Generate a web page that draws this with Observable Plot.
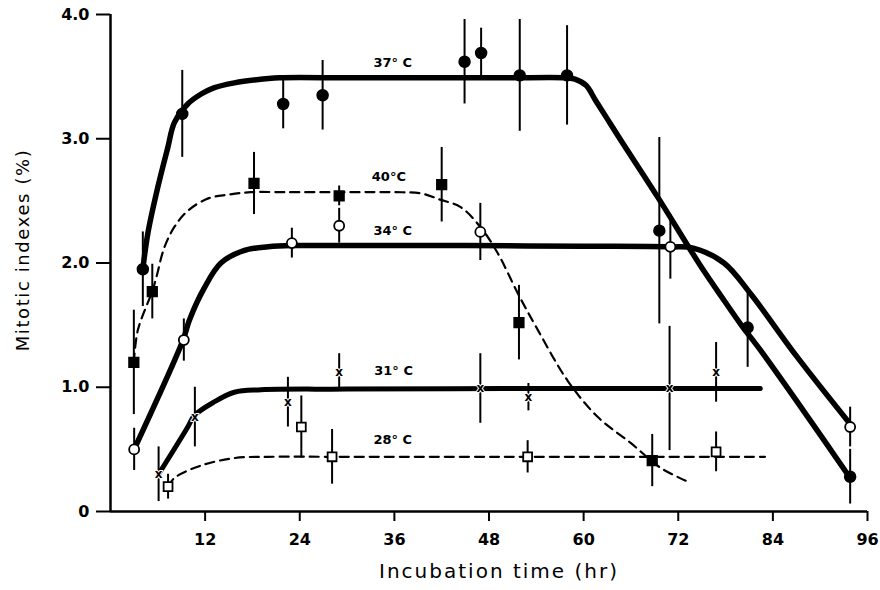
<!DOCTYPE html>
<html>
<head>
<meta charset="utf-8">
<script src="https://cdn.jsdelivr.net/npm/d3@7"></script>
<script src="https://cdn.jsdelivr.net/npm/@observablehq/plot@0.6"></script>
<style>
  html, body { margin: 0; padding: 0; background: #fff; }
  #chart { width: 880px; height: 590px; }
</style>
</head>
<body>
<div id="chart"></div>
<script>
// ---- measured points (hours, mitotic index %, error half-length) ----
const hours37 = [4.1, 9.1, 21.9, 26.9, 44.9, 47.0, 51.9, 57.9, 69.6, 80.8, 93.8];
const mi37    = [1.95, 3.20, 3.28, 3.35, 3.62, 3.69, 3.51, 3.51, 2.26, 1.48, 0.28];
const err37   = [0.30, 0.35, 0.20, 0.28, 0.34, 0.20, 0.45, 0.40, 0.75, 0.32, 0.22];

const hours40 = [2.96, 5.3, 18.2, 29.0, 42.0, 51.8, 68.7];
const mi40    = [1.20, 1.77, 2.64, 2.54, 2.63, 1.52, 0.41];
const err40   = [0.42, 0.22, 0.25, 0.08, 0.30, 0.30, 0.21];

const hours34 = [3.0, 9.3, 23.0, 29.0, 46.9, 71.0, 93.8];
const mi34    = [0.50, 1.38, 2.16, 2.30, 2.25, 2.13, 0.68];
const err34   = [0.17, 0.17, 0.12, 0.14, 0.23, 0.26, 0.16];

const hours31 = [6.1, 10.7, 22.5, 29.0, 46.9, 53.0, 70.9, 76.8];
const mi31    = [0.30, 0.76, 0.88, 1.12, 0.99, 0.92, 0.99, 1.12];
const err31   = [0.22, 0.24, 0.20, 0.15, 0.28, 0.11, 0.50, 0.24];

const hours28 = [7.3, 24.2, 28.1, 52.9, 76.8];
const mi28    = [0.20, 0.68, 0.44, 0.44, 0.48];
const err28   = [0.10, 0.25, 0.22, 0.13, 0.16];

// ---- fitted curves ----
const curve37x = [4.1, 4.74, 6.0, 7.27, 8.1, 9.8, 11.5, 13.1, 15.7, 18.5, 21.4, 30, 40, 50, 57.9, 58.9, 60.3, 61.5, 63.0, 64.7, 69.4, 74.8, 77.8, 80.0, 82.4, 88, 93.8];
const curve37y = [1.95, 2.24, 2.61, 2.93, 3.13, 3.28, 3.36, 3.41, 3.45, 3.475, 3.49, 3.49, 3.49, 3.49, 3.49, 3.48, 3.43, 3.31, 3.16, 2.99, 2.53, 1.98, 1.70, 1.50, 1.30, 0.80, 0.27];

const curve40x = [2.96, 3.47, 5.28, 5.8, 6.8, 8.1, 9.8, 12.4, 14.9, 17.8, 22, 30, 36, 39.4, 41.8, 44.4, 46.9, 49.1, 51.7, 54.2, 58.0, 61.8, 66.0, 69.8, 73.6];
const curve40y = [1.20, 1.46, 1.77, 1.88, 2.12, 2.29, 2.42, 2.52, 2.55, 2.57, 2.57, 2.57, 2.57, 2.56, 2.51, 2.45, 2.29, 2.08, 1.75, 1.46, 1.05, 0.76, 0.55, 0.35, 0.23];

const curve34x = [3.0, 9.2, 10.0, 11.9, 14.0, 16.9, 20.0, 23.0, 35, 45, 60, 71.0, 73.9, 77.8, 81.2, 87, 93.6];
const curve34y = [0.50, 1.38, 1.54, 1.80, 2.00, 2.10, 2.13, 2.14, 2.14, 2.14, 2.135, 2.13, 2.12, 2.00, 1.75, 1.25, 0.72];

const curve31x = [6.1, 9.8, 10.6, 13.1, 15.7, 19.1, 30, 50, 70, 82.4];
const curve31y = [0.30, 0.68, 0.77, 0.88, 0.96, 0.98, 0.985, 0.99, 0.99, 0.99];

const curve28x = [7.3, 8.1, 11.5, 15.7, 20.0, 30, 50, 70, 83.0];
const curve28y = [0.20, 0.27, 0.37, 0.43, 0.44, 0.44, 0.44, 0.44, 0.44];

// ---- curve labels ----
const labelText = ["37° C", "40°C", "34° C", "31° C", "28° C"];
const labelX    = [35.8, 35.3, 35.8, 35.9, 35.8];
const labelY    = [3.61, 2.69, 2.26, 1.13, 0.58];

// ---- axis ticks ----
const xTicks = [12, 24, 36, 48, 60, 72, 84, 96];
const yTicks = [0, 1, 2, 3, 4];
const yTickLabels = ["0", "1.0", "2.0", "3.0", "4.0"];

const pts = (xs, ys, es) => xs.map((x, i) => ({x, y: ys[i], e: es[i]}));
const crv = (xs, ys) => xs.map((x, i) => ({x, y: ys[i]}));

const d37 = pts(hours37, mi37, err37);
const d40 = pts(hours40, mi40, err40);
const d34 = pts(hours34, mi34, err34);
const d31 = pts(hours31, mi31, err31);
const d28 = pts(hours28, mi28, err28);
const labels = labelText.map((t, i) => ({t, x: labelX[i], y: labelY[i]}));

const err = (d) => Plot.ruleX(d, {x: "x", y1: (p) => p.y - p.e, y2: (p) => p.y + p.e, stroke: "#000", strokeWidth: 2});
const curveStyle = "catmull-rom";

const chart = Plot.plot({
  width: 880,
  height: 590,
  marginLeft: 110,
  marginRight: 13,
  marginTop: 14,
  marginBottom: 79,
  style: {fontFamily: "'DejaVu Sans', sans-serif", background: "#fff", color: "#000"},
  x: {domain: [0, 96], label: null},
  y: {domain: [0, 4], label: null},
  marks: [
    Plot.axisX({ticks: xTicks, tickSize: 10, tickPadding: 12, fontSize: 16, fontWeight: "bold", strokeWidth: 2, label: null}),
    Plot.axisY({ticks: yTicks, tickSize: 14, tickPadding: 7, fontSize: 16, fontWeight: "bold", strokeWidth: 2,
                tickFormat: (d) => yTickLabels[yTicks.indexOf(d)], label: null}),
    Plot.ruleY([0], {stroke: "#000", strokeWidth: 2.5}),
    Plot.ruleX([0], {stroke: "#000", strokeWidth: 2.5}),
    // curves
    Plot.line(crv(curve37x, curve37y), {x: "x", y: "y", curve: curveStyle, stroke: "#000", strokeWidth: 5.5}),
    Plot.line(crv(curve34x, curve34y), {x: "x", y: "y", curve: curveStyle, stroke: "#000", strokeWidth: 5.5}),
    Plot.line(crv(curve31x, curve31y), {x: "x", y: "y", curve: curveStyle, stroke: "#000", strokeWidth: 5}),
    Plot.line(crv(curve40x, curve40y), {x: "x", y: "y", curve: curveStyle, stroke: "#000", strokeWidth: 2.2, strokeDasharray: "9,6"}),
    Plot.line(crv(curve28x, curve28y), {x: "x", y: "y", curve: curveStyle, stroke: "#000", strokeWidth: 2.2, strokeDasharray: "9,6"}),
    // error bars
    err(d37), err(d40), err(d34), err(d31), err(d28),
    // markers
    Plot.dot(d37, {x: "x", y: "y", r: 5.5, fill: "#000", stroke: "#000"}),
    Plot.dot(d40, {x: "x", y: "y", symbol: "square", r: 5.5, fill: "#000", stroke: "#000"}),
    Plot.dot(d34, {x: "x", y: "y", r: 5, fill: "#fff", stroke: "#000", strokeWidth: 1.8}),
    Plot.dot(d28, {x: "x", y: "y", symbol: "square", r: 5, fill: "#fff", stroke: "#000", strokeWidth: 1.8}),
    Plot.text(d31, {x: "x", y: "y", text: () => "x", fontSize: 12, fontWeight: "bold", fill: "#000", stroke: "#fff", strokeWidth: 2, paintOrder: "stroke"}),
    // labels
    Plot.text(labels, {x: "x", y: "y", text: "t", fontSize: 13, fontWeight: "bold", fill: "#000"}),
    // axis titles
    Plot.text(["Incubation time (hr)"], {frameAnchor: "bottom", textAnchor: "middle", dx: 10, dy: 66, text: (d) => d, fontSize: 20, fill: "#000"}),
    Plot.text(["Mitotic indexes (%)"], {frameAnchor: "left", textAnchor: "middle", dx: -87, dy: -13, rotate: -90, text: (d) => d, fontSize: 18, fill: "#000"})
  ]
});

document.getElementById("chart").appendChild(chart);
// letter spacing for axis titles
chart.querySelectorAll("text").forEach((t) => {
  if (t.textContent === "Incubation time (hr)") t.setAttribute("letter-spacing", "2");
  if (t.textContent === "Mitotic indexes (%)") t.setAttribute("letter-spacing", "1.6");
});
</script>
</body>
</html>
